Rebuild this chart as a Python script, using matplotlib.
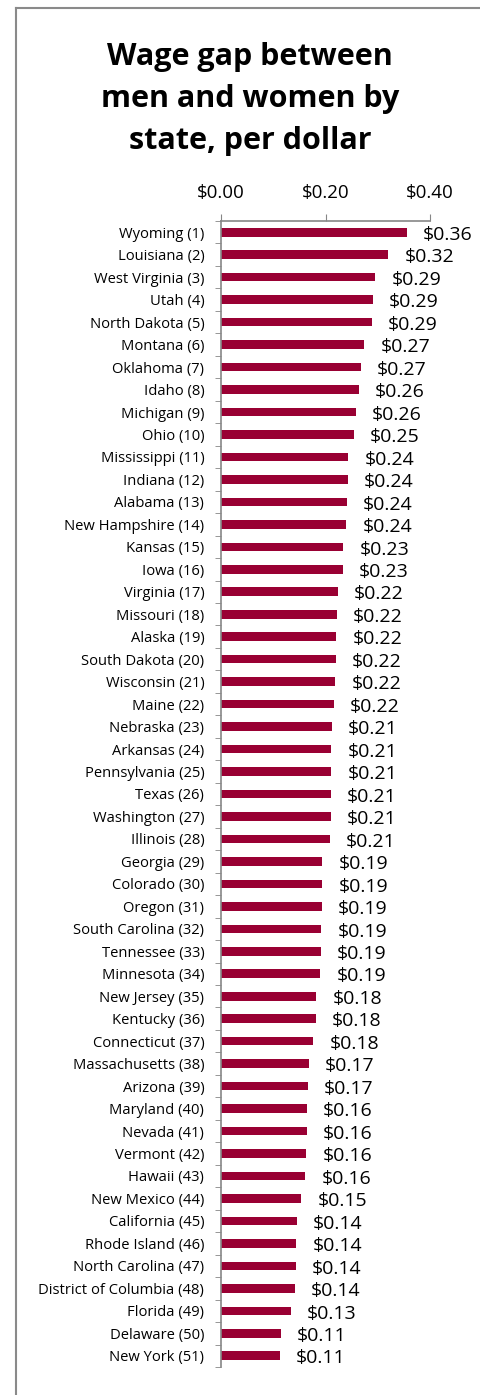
import matplotlib.pyplot as plt
from matplotlib.lines import Line2D
import numpy as np

plt.rcParams['font.family'] = ['Open Sans', 'DejaVu Sans']

states = [
    "Wyoming", "Louisiana", "West Virginia", "Utah", "North Dakota", "Montana",
    "Oklahoma", "Idaho", "Michigan", "Ohio", "Mississippi", "Indiana", "Alabama",
    "New Hampshire", "Kansas", "Iowa", "Virginia", "Missouri", "Alaska",
    "South Dakota", "Wisconsin", "Maine", "Nebraska", "Arkansas", "Pennsylvania",
    "Texas", "Washington", "Illinois", "Georgia", "Colorado", "Oregon",
    "South Carolina", "Tennessee", "Minnesota", "New Jersey", "Kentucky",
    "Connecticut", "Massachusetts", "Arizona", "Maryland", "Nevada", "Vermont",
    "Hawaii", "New Mexico", "California", "Rhode Island", "North Carolina",
    "District of Columbia", "Florida", "Delaware", "New York",
]
gap = [
    0.356, 0.320, 0.295, 0.290, 0.289, 0.274, 0.268, 0.264, 0.258, 0.254,
    0.244, 0.243, 0.241, 0.240, 0.234, 0.233, 0.223, 0.222, 0.221, 0.220,
    0.219, 0.216, 0.212, 0.211, 0.211, 0.210, 0.210, 0.208, 0.194, 0.194,
    0.193, 0.192, 0.191, 0.190, 0.182, 0.181, 0.177, 0.168, 0.166, 0.164,
    0.164, 0.163, 0.161, 0.154, 0.145, 0.144, 0.143, 0.141, 0.134, 0.114,
    0.113,
]
labels = [f"{s} ({i + 1})" for i, s in enumerate(states)]

BAR_COLOR = "#990033"
AXIS_COLOR = "#868686"

fig = plt.figure(figsize=(4.81, 13.95), dpi=100)
ax = fig.add_axes([221 / 481, 1 - 1367 / 1395, 209 / 481, 1146 / 1395])

y = np.arange(len(states))
ax.barh(y, gap, height=0.38, color=BAR_COLOR)
ax.set_ylim(len(states) - 0.5, -0.5)
ax.set_xlim(0, 0.4)

for yi, v in zip(y, gap):
    ax.text(v + 0.031, yi + 0.12, f"${v:.2f}", va="center", ha="left",
            fontsize=14, color="black", clip_on=False)

ax.xaxis.tick_top()
ax.set_xticks([0, 0.2, 0.4])
ax.set_xticklabels(["$0.00", "$0.20", "$0.40"], fontsize=13.5)
ax.tick_params(axis="x", direction="out", length=5, color=AXIS_COLOR, pad=9)

ax.set_yticks(y)
ax.set_yticklabels(labels, fontsize=10.6)
ax.tick_params(axis="y", length=0, pad=12)
ax.set_yticks(np.arange(len(states) + 1) - 0.5, minor=True)
ax.tick_params(axis="y", which="minor", direction="out", length=4, color=AXIS_COLOR)

for side in ["right", "bottom"]:
    ax.spines[side].set_visible(False)
for side in ["left", "top"]:
    ax.spines[side].set_color(AXIS_COLOR)
    ax.spines[side].set_linewidth(1.2)

fig.text(250 / 481, 1 - 99 / 1395, "Wage gap between\nmen and women by\nstate, per dollar",
         ha="center", va="center", fontsize=22, fontweight="bold", linespacing=1.5)

# frame of the chart area
fig.add_artist(Line2D([16 / 481, 16 / 481], [0, 1 - 8 / 1395], color="#8a8a8a", lw=1.5))
fig.add_artist(Line2D([16 / 481, 1], [1 - 8 / 1395, 1 - 8 / 1395], color="#8a8a8a", lw=1.5))

plt.savefig("out.png", dpi=100)
